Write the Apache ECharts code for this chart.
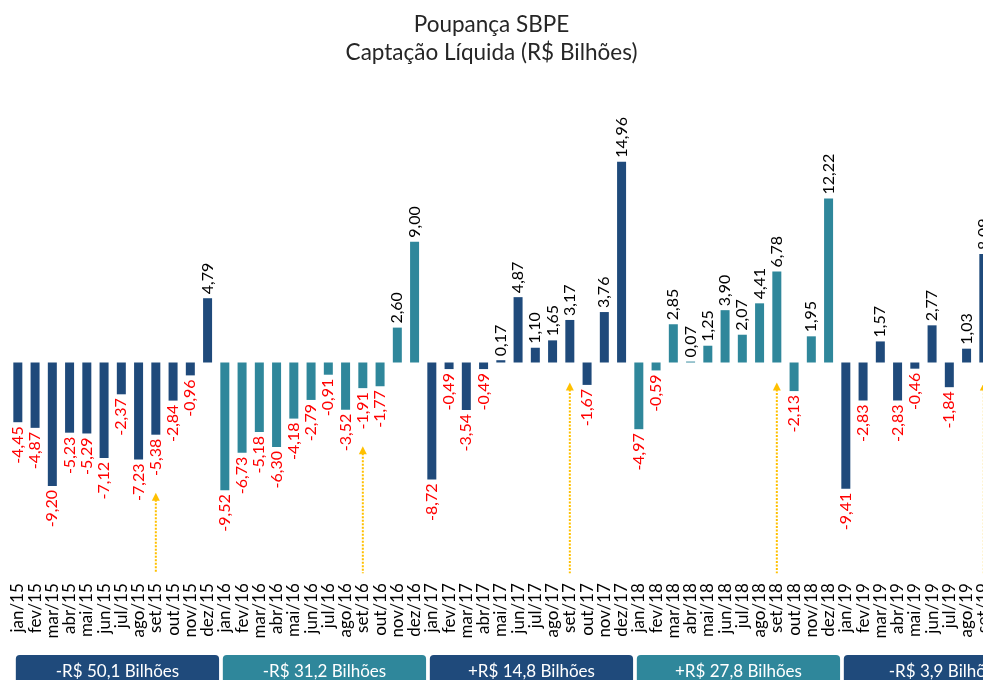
<!DOCTYPE html>
<html>
<head>
<meta charset="utf-8">
<script src="https://cdn.jsdelivr.net/npm/echarts@6/dist/echarts.min.js"></script>
<style>
  html, body { margin: 0; padding: 0; background: #fff; }
  #chart { width: 983px; height: 680px; }
</style>
</head>
<body>
<div id="chart"></div>
<script>
// meses e anos do eixo
const nomesMes = ['jan', 'fev', 'mar', 'abr', 'mai', 'jun', 'jul', 'ago', 'set', 'out', 'nov', 'dez'];
const anos = ['15', '16', '17', '18', '19'];

// captação líquida mensal (R$ bilhões)
const capt2015 = [-4.45, -4.87, -9.20, -5.23, -5.29, -7.12, -2.37, -7.23, -5.38, -2.84, -0.96, 4.79];
const capt2016 = [-9.52, -6.73, -5.18, -6.30, -4.18, -2.79, -0.91, -3.52, -1.91, -1.77, 2.60, 9.00];
const capt2017 = [-8.72, -0.49, -3.54, -0.49, 0.17, 4.87, 1.10, 1.65, 3.17, -1.67, 3.76, 14.96];
const capt2018 = [-4.97, -0.59, 2.85, 0.07, 1.25, 3.90, 2.07, 4.41, 6.78, -2.13, 1.95, 12.22];
const capt2019 = [-9.41, -2.83, 1.57, -2.83, -0.46, 2.77, -1.84, 1.03, 8.09];

// total acumulado por ano
const totaisAno = ['-R$ 50,1 Bilhões', '-R$ 31,2 Bilhões', '+R$ 14,8 Bilhões', '+R$ 27,8 Bilhões', '-R$ 3,9 Bilhões'];
// meses marcados com seta
const mesesSeta = ['set/15', 'set/16', 'set/17', 'set/18', 'set/19'];

const cores = ['#1F4A7B', '#2F879B'];
const fonte = 'Lato';

const valores = [].concat(capt2015, capt2016, capt2017, capt2018, capt2019);
let categorias = [];
anos.forEach(a => nomesMes.forEach(m => categorias.push(m + '/' + a)));
categorias = categorias.slice(0, valores.length);

const fmt = v => v.toFixed(2).replace('.', ',');

const dados = valores.map((v, i) => ({
  value: v,
  itemStyle: { color: cores[Math.floor(i / 12) % 2] },
  label: {
    position: v < 0 ? 'bottom' : 'top',
    align: v < 0 ? 'right' : 'left',
    color: v < 0 ? '#FF0000' : '#000000'
  }
}));

const chart = echarts.init(document.getElementById('chart'));
const gridTop = 147.8, gridH = 429.4;

chart.setOption({
  animation: false,
  title: {
    text: 'Poupança SBPE\nCaptação Líquida (R$ Bilhões)',
    left: 'center',
    top: 6,
    textStyle: { fontFamily: fonte, fontSize: 22.5, fontWeight: 'normal', lineHeight: 28, color: '#262626' }
  },
  grid: { left: 9.2, top: gridTop, width: 983.25, height: gridH, outerBoundsMode: 'none', containLabel: false },
  xAxis: {
    type: 'category',
    data: categorias,
    axisLine: { show: false, onZero: false },
    axisTick: { show: false },
    axisLabel: { rotate: 90, interval: 0, margin: 6, fontSize: 17, fontFamily: fonte, color: '#000' }
  },
  yAxis: { type: 'value', min: -16, max: 16, show: false },
  series: [{
    type: 'bar',
    barWidth: 9,
    data: dados,
    label: {
      show: true,
      rotate: 90,
      distance: 4,
      verticalAlign: 'middle',
      fontSize: 16,
      fontFamily: fonte,
      formatter: p => fmt(p.value)
    }
  }]
});

// caixas de totais e setas, posicionadas pelo eixo
const px = c => chart.convertToPixel({ xAxisIndex: 0 }, c);
const py = v => chart.convertToPixel({ yAxisIndex: 0 }, v);
const passo = px('fev/15') - px('jan/15');
const graficos = [];

anos.forEach((a, i) => {
  const x0 = px('jan/' + a) - 2;
  const w = 11 * passo + 13.5;
  graficos.push({
    type: 'rect',
    shape: { x: x0, y: 655, width: w, height: 40, r: [4, 4, 0, 0] },
    style: { fill: cores[i % 2] }
  });
  graficos.push({
    type: 'text',
    x: x0 + w / 2,
    y: 672,
    style: { text: totaisAno[i], fill: '#fff', fontSize: 17, fontFamily: fonte, align: 'center', verticalAlign: 'middle' }
  });
});

const baseSeta = gridTop + gridH - 4;
mesesSeta.forEach(m => {
  const x = px(m);
  const v = valores[categorias.indexOf(m)];
  const ponta = py(Math.min(v, 0)) + (v < 0 ? 58 : 20);
  graficos.push({
    type: 'line',
    shape: { x1: x, y1: ponta + 7, x2: x, y2: baseSeta },
    style: { stroke: '#FFC000', lineWidth: 2, lineDash: [2, 1.5] }
  });
  graficos.push({
    type: 'polygon',
    shape: { points: [[x, ponta], [x - 4, ponta + 8], [x + 4, ponta + 8]] },
    style: { fill: '#FFC000' }
  });
});

chart.setOption({ graphic: graficos });
</script>
</body>
</html>
